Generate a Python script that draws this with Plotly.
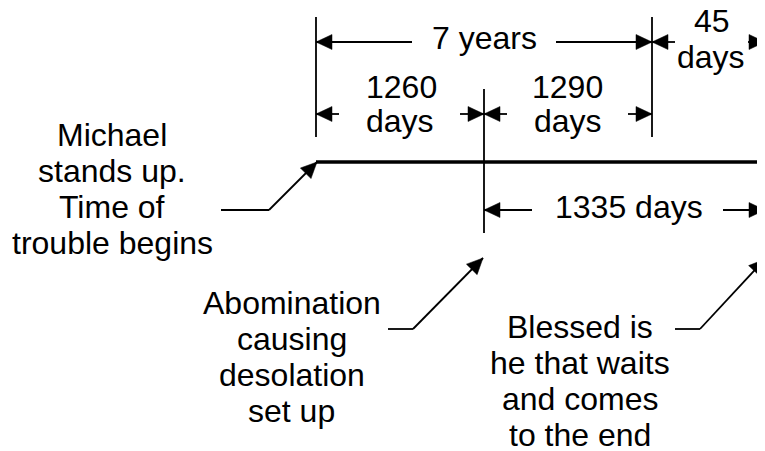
import plotly.graph_objects as go

# ---------------- data ----------------
period_days = [1260, 1290, 45, 1335]
period_years = [7]
event_text = [
    ["Michael", "stands up.", "Time of", "trouble begins"],
    ["Abomination", "causing", "desolation", "set up"],
    ["Blessed is", "he that waits", "and comes", "to the end"],
]

# ---------------- layout geometry (pixel space of the schematic) ----------------
W, H = 765, 451
PAD = 8  # page body margin of the html page
FONT = dict(family="Liberation Sans, Arial, sans-serif", size=32, color="black")
LW = 1.8
XS, XM, XE, XR = 316, 484, 652, 765     # start, mid, end of 7 yrs, end
Y_7Y, Y_MID, Y_LINE, Y_1335 = 42, 114, 162, 210

shapes = []
annotations = []


def line(x0, y0, x1, y1, w=LW):
    shapes.append(dict(type="line", xref="x", yref="y", x0=x0, y0=y0, x1=x1, y1=y1,
                       line=dict(color="black", width=w)))


def head(tx, ty, fx, fy, L=16, hw=7.5):
    dx, dy = tx - fx, ty - fy
    n = (dx * dx + dy * dy) ** 0.5
    ux, uy = dx / n, dy / n
    bx, by = tx - L * ux, ty - L * uy
    px, py = -uy, ux
    path = (f"M{tx},{ty} L{bx + hw * px},{by + hw * py} "
            f"L{bx - hw * px},{by - hw * py} Z")
    shapes.append(dict(type="path", xref="x", yref="y", path=path,
                       fillcolor="black", line=dict(color="black", width=0.5)))


def arrow(tx, ty, fx, fy):
    line(fx, fy, tx, ty)
    head(tx, ty, fx, fy)


def text(s, x, baseline):
    annotations.append(dict(text=s, x=x, y=baseline - 11, xref="x", yref="y",
                            showarrow=False, xanchor="center", yanchor="middle",
                            font=FONT))


# main timeline
line(XS, Y_LINE, W + 5, Y_LINE, w=3.6)

# vertical markers
line(XS, 17, XS, 137)
line(XM, 89, XM, 233)
line(XE, 17, XE, 137)

# 7 years
arrow(XS, Y_7Y, 412, Y_7Y)
arrow(XE, Y_7Y, 556, Y_7Y)
text(f"{period_years[0]} years", 484, 49)

# 45 days
arrow(XE, Y_7Y, 675, Y_7Y)
arrow(XR, Y_7Y, 748, Y_7Y)
text(f"{period_days[2]}", 712, 32)
text("days", 711, 68)

# 1260 days
arrow(XS, Y_MID, 339, Y_MID)
arrow(XM, Y_MID, 460, Y_MID)
text(f"{period_days[0]}", 401, 98)
text("days", 400, 132)

# 1290 days
arrow(XM, Y_MID, 507, Y_MID)
arrow(XE, Y_MID, 628, Y_MID)
text(f"{period_days[1]}", 567, 98)
text("days", 568, 132)

# 1335 days
arrow(XM, Y_1335, 532, Y_1335)
arrow(XR, Y_1335, 723, Y_1335)
text(f"{period_days[3]} days", 629, 218)

# leaders
line(221, 210, 269, 210)
arrow(XS + 1, Y_LINE, 269, 210)
line(388, 329, 413, 329)
arrow(483, 258, 413, 329)
line(675, 329, 700, 329)
arrow(XR, 259, 700, 329)

# event descriptions
block_pos = [(112, 146), (291.5, 314), (580, 338)]
for lines_, (cx, b0) in zip(event_text, block_pos):
    for i, s in enumerate(lines_):
        text(s, cx, b0 + 36 * i)

fig = go.Figure()
fig.add_trace(go.Scatter(x=[PAD, W], y=[PAD, H], mode="markers",
                         marker=dict(opacity=0), hoverinfo="skip", showlegend=False))
fig.update_layout(
    width=W - PAD, height=H - PAD, margin=dict(l=0, r=0, t=0, b=0),
    paper_bgcolor="white", plot_bgcolor="white",
    xaxis=dict(range=[PAD, W], visible=False, fixedrange=True),
    yaxis=dict(range=[H, PAD], visible=False, fixedrange=True),
    shapes=shapes, annotations=annotations, showlegend=False,
)
fig.write_html("out.html", config={"displayModeBar": False})
